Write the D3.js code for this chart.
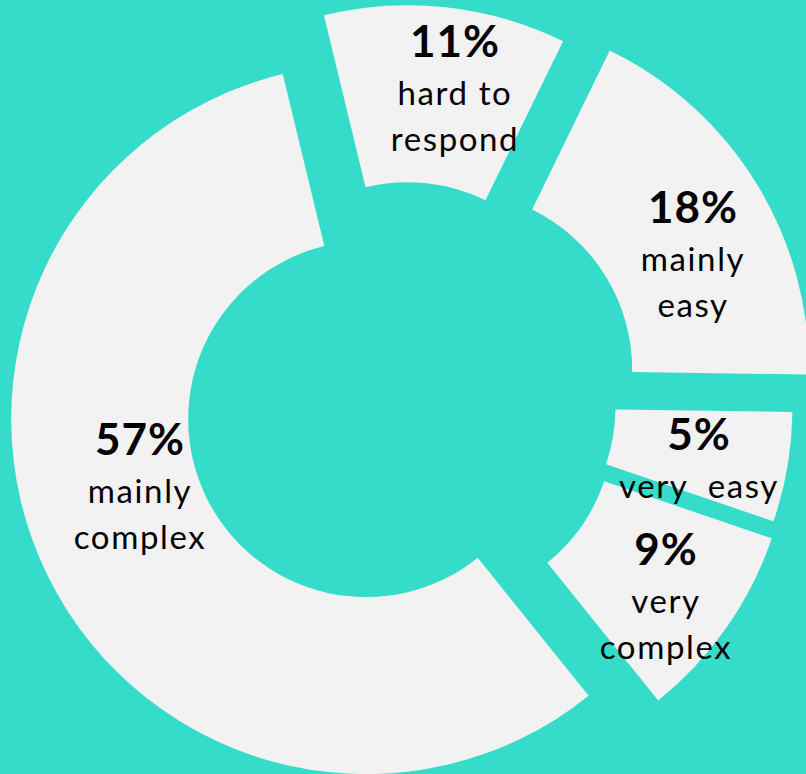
<!DOCTYPE html>
<html lang="en">
<head>
<meta charset="utf-8">
<title>Donut</title>
<script src="https://d3js.org/d3.v7.min.js"></script>
<style>
  body { margin: 0; background: #34dcc9; }
  svg text { font-family: Lato, "Open Sans", sans-serif; fill: #000; }
</style>
</head>
<body>
<script>
// clockwise from the slice that starts just left of 12 o'clock
var categories = ["hard to respond", "mainly easy", "very easy", "very complex", "mainly complex"];
var values = [11, 18, 5, 9, 57];
var lines = [["hard to", "respond"], ["mainly", "easy"], ["very\u00a0\u00a0easy"], ["very", "complex"], ["mainly", "complex"]];

var width = 806, height = 774;
var cx = 403, cy = 401;
var rIn = 178, rOut = 355;
var startDeg = -13.6;
var explode = [41, 60, 35, 40, 41];
// text anchors (centre x, baseline of the percent)
var labelAt = [[455, 57], [693, 223], [699, 450], [666, 565], [140, 455]];

var svg = d3.select("body").append("svg")
    .attr("width", width)
    .attr("height", height);

svg.append("rect").attr("width", width).attr("height", height).attr("fill", "#34dcc9");

var pie = d3.pie().sort(null)
    .startAngle(startDeg * Math.PI / 180)
    .endAngle((startDeg + 360) * Math.PI / 180);
var arc = d3.arc().innerRadius(rIn).outerRadius(rOut);

var arcs = pie(values);

svg.append("g").selectAll("path")
    .data(arcs)
    .enter().append("path")
    .attr("transform", function(d, i) {
        var a = (d.startAngle + d.endAngle) / 2;
        var x = cx + explode[i] * Math.sin(a), y = cy - explode[i] * Math.cos(a);
        return "translate(" + x + "," + y + ")";
    })
    .attr("d", arc)
    .attr("fill", "#f2f2f2");

var lab = svg.append("g").selectAll("g")
    .data(arcs)
    .enter().append("g")
    .attr("transform", function(d, i) { return "translate(" + labelAt[i][0] + "," + labelAt[i][1] + ")"; })
    .attr("text-anchor", "middle");

lab.append("text")
    .attr("font-size", 44)
    .attr("font-weight", "bold")
    .attr("letter-spacing", 1)
    .text(function(d) { return d.value + "%"; });

lab.each(function(d, i) {
    var g = d3.select(this);
    lines[i].forEach(function(t, j) {
        g.append("text")
            .attr("y", 48 + j * 46)
            .attr("font-size", 33)
            .attr("letter-spacing", 1.6)
            .text(t);
    });
});
</script>
</body>
</html>
